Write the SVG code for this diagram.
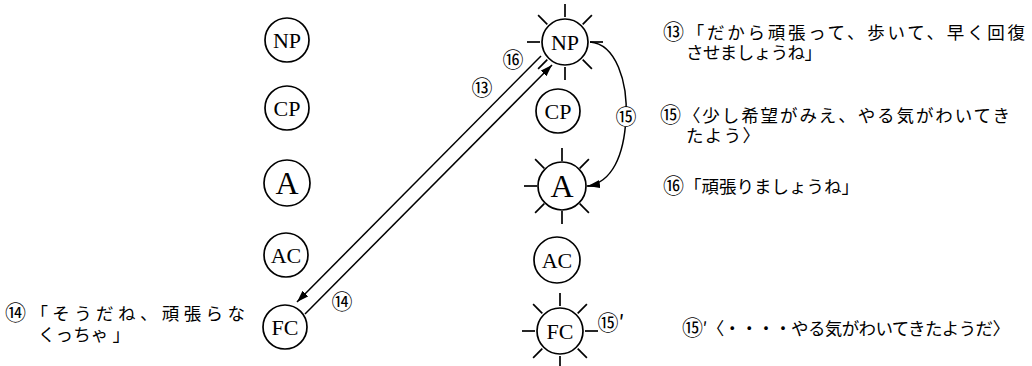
<svg xmlns="http://www.w3.org/2000/svg" xmlns:xlink="http://www.w3.org/1999/xlink" width="1032" height="366" viewBox="0 0 1032 366">
  <style>
    .node circle { fill: #fff; stroke: #000; stroke-width: 1.7; }
    .lbl { font-family: "Liberation Serif", serif; font-size: 22px; text-anchor: middle; fill: #000; }
    .big { font-size: 32px; }
    .ray { stroke: #000; stroke-width: 1.7; }
    .jp { font-family: "Noto Sans CJK JP", "Noto Sans CJK SC", sans-serif; font-size: 17.5px; fill: #000; }
    .cn { font-size: 21px; }
    .num { font-family: "Noto Sans CJK JP", "Noto Sans CJK SC", sans-serif; font-size: 21px; fill: #000; }
    .conn { fill: none; stroke: #000; stroke-width: 1.5; }
  </style>
  <defs>
    <!-- eight short strokes radiating around an ego-state circle -->
    <g id="rays" class="ray">
      <line x1="25" y1="0" x2="38" y2="0"/>
      <line x1="-25" y1="0" x2="-38" y2="0"/>
      <line x1="0" y1="25" x2="0" y2="38"/>
      <line x1="0" y1="-25" x2="0" y2="-38"/>
      <line x1="17.7" y1="17.7" x2="26.9" y2="26.9"/>
      <line x1="-17.7" y1="17.7" x2="-26.9" y2="26.9"/>
      <line x1="17.7" y1="-17.7" x2="26.9" y2="-26.9"/>
      <line x1="-17.7" y1="-17.7" x2="-26.9" y2="-26.9"/>
    </g>
    <marker id="head" viewBox="0 0 12 8" refX="12" refY="4" markerWidth="12" markerHeight="8" markerUnits="userSpaceOnUse" orient="auto">
      <path d="M0,0 L12,4 L0,8 Z" fill="#000"/>
    </marker>
  </defs>

  <!-- left ego-state column -->
  <g id="l-np" class="node"><circle cx="287" cy="40" r="22"/><text class="lbl" x="287" y="48">NP</text></g>
  <g id="l-cp" class="node"><circle cx="287" cy="108" r="22"/><text class="lbl" x="287" y="116">CP</text></g>
  <g id="l-a" class="node"><circle cx="287" cy="183" r="23"/><text class="lbl big" x="287" y="194">A</text></g>
  <g id="l-ac" class="node"><circle cx="286" cy="255" r="22"/><text class="lbl" x="286" y="263">AC</text></g>
  <g id="l-fc" class="node"><circle cx="285" cy="327" r="22"/><text class="lbl" x="285" y="335">FC</text></g>

  <!-- right ego-state column -->
  <g id="r-np" class="node"><use xlink:href="#rays" x="565" y="42"/><circle cx="565" cy="42" r="23"/><text class="lbl" x="565" y="50">NP</text></g>
  <g id="r-cp" class="node"><circle cx="558" cy="111" r="22"/><text class="lbl" x="558" y="119">CP</text></g>
  <g id="r-a" class="node"><use xlink:href="#rays" x="562" y="186"/><circle cx="562" cy="186" r="24"/><text class="lbl big" x="562" y="197">A</text></g>
  <g id="r-ac" class="node"><circle cx="557" cy="260" r="23"/><text class="lbl" x="557" y="268">AC</text></g>
  <g id="r-fc" class="node"><use xlink:href="#rays" x="560" y="331"/><circle cx="560" cy="331" r="23"/><text class="lbl" x="560" y="339">FC</text></g>

  <!-- transactions -->
  <g id="connectors">
    <line class="conn" x1="541" y1="56" x2="297" y2="302" marker-end="url(#head)"/>
    <line class="conn" x1="305" y1="314" x2="552" y2="65" marker-end="url(#head)"/>
    <path class="conn" d="M590,42 C616,44 628,82 626,118 C624,156 612,182 588,186" marker-end="url(#head)"/>
    <circle cx="626" cy="117" r="10" fill="#fff"/>
    <text class="num" x="626" y="124" text-anchor="middle">⑮</text>
    <text class="num" x="482" y="95" text-anchor="middle">⑬</text>
    <text class="num" x="513" y="67" text-anchor="middle">⑯</text>
    <text class="num" x="342" y="309" text-anchor="middle">⑭</text>
    <text class="num" x="611" y="330" text-anchor="middle">⑮′</text>
  </g>

  <!-- dialogue notes, wrapped paragraphs -->
  <g id="notes">
    <text class="jp"><tspan x="663" y="39" textLength="362" lengthAdjust="spacing"><tspan class="cn">⑬</tspan>「だから頑張って、歩いて、早く回復</tspan><tspan x="686" y="59" textLength="136" lengthAdjust="spacing">させましょうね」</tspan></text>
    <text class="jp"><tspan x="660" y="122" textLength="350" lengthAdjust="spacing"><tspan class="cn">⑮</tspan>〈少し希望がみえ、やる気がわいてき</tspan><tspan x="686" y="142" textLength="74" lengthAdjust="spacing">たよう〉</tspan></text>
    <text class="jp" x="663" y="193" textLength="196" lengthAdjust="spacing"><tspan class="cn">⑯</tspan>「頑張りましょうね」</text>
    <text class="jp" x="682" y="335" textLength="328" lengthAdjust="spacing"><tspan class="cn">⑮</tspan>′〈・・・・やる気がわいてきたようだ〉</text>
    <text class="jp"><tspan x="5" y="320" textLength="240" lengthAdjust="spacing"><tspan class="cn">⑭</tspan>「そうだね、頑張らな</tspan><tspan x="38" y="341" textLength="92" lengthAdjust="spacing">くっちゃ 」</tspan></text>
  </g>
</svg>
